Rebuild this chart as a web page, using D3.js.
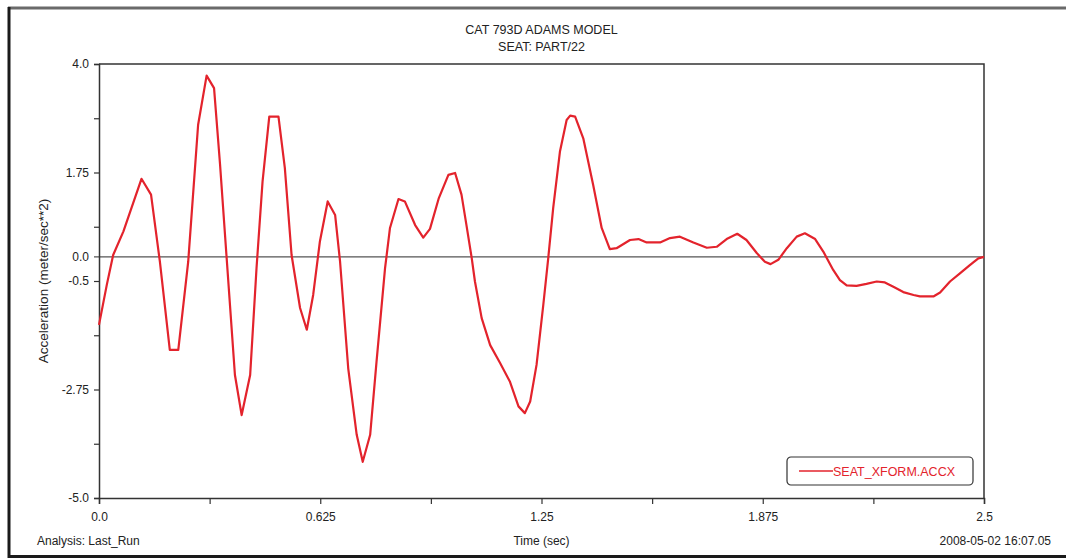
<!DOCTYPE html>
<html>
<head>
<meta charset="utf-8">
<script src="https://cdn.jsdelivr.net/npm/d3@7"></script>
<style>
  html, body { margin: 0; padding: 0; background: #fff; }
  svg { display: block; }
  text { font-family: "Liberation Sans Narrow", "Arial Narrow", "Liberation Sans", Arial, sans-serif; fill: #222; }
</style>
</head>
<body>
<svg id="chart" width="1066" height="558"></svg>
<script>
// Seat acceleration (X) vs. time, ADAMS run "Last_Run"
const timeSec = [
  0.000, 0.022, 0.040, 0.069, 0.120, 0.147, 0.172, 0.200, 0.224, 0.252,
  0.280, 0.304, 0.325, 0.342, 0.360, 0.384, 0.403, 0.427, 0.445, 0.462,
  0.481, 0.507, 0.525, 0.544, 0.568, 0.587, 0.605, 0.624, 0.646, 0.667,
  0.681, 0.704, 0.728, 0.745, 0.766, 0.784, 0.808, 0.822, 0.846, 0.864,
  0.893, 0.916, 0.935, 0.960, 0.987, 1.006, 1.024, 1.038, 1.053, 1.062,
  1.081, 1.105, 1.133, 1.161, 1.185, 1.203, 1.218, 1.236, 1.255, 1.269,
  1.283, 1.302, 1.321, 1.331, 1.345, 1.368, 1.396, 1.420, 1.443, 1.462,
  1.500, 1.524, 1.547, 1.585, 1.613, 1.641, 1.679, 1.717, 1.745, 1.773,
  1.803, 1.829, 1.858, 1.881, 1.897, 1.919, 1.943, 1.971, 1.994, 2.023,
  2.046, 2.074, 2.093, 2.112, 2.140, 2.168, 2.197, 2.220, 2.244, 2.272,
  2.301, 2.319, 2.357, 2.376, 2.404, 2.432, 2.460, 2.484, 2.500
];
const seatAccX = [
  -1.41, -0.58, 0.04, 0.53, 1.62, 1.29, -0.10, -1.93, -1.93, -0.10,
  2.74, 3.76, 3.50, 1.91, 0.04, -2.45, -3.28, -2.45, -0.23, 1.56,
  2.91, 2.91, 1.84, 0.04, -1.06, -1.51, -0.79, 0.32, 1.15, 0.87,
  -0.10, -2.31, -3.69, -4.25, -3.69, -2.17, -0.24, 0.60, 1.20, 1.15,
  0.66, 0.40, 0.58, 1.22, 1.70, 1.74, 1.29, 0.66, -0.03, -0.51,
  -1.27, -1.83, -2.20, -2.59, -3.10, -3.24, -3.00, -2.24, -1.00, -0.03,
  1.01, 2.18, 2.84, 2.93, 2.91, 2.46, 1.49, 0.60, 0.16, 0.18,
  0.35, 0.37, 0.30, 0.30, 0.39, 0.42, 0.30, 0.19, 0.21, 0.37,
  0.48, 0.35, 0.08, -0.10, -0.15, -0.06, 0.18, 0.42, 0.49, 0.37,
  0.11, -0.27, -0.48, -0.59, -0.60, -0.56, -0.51, -0.53, -0.62, -0.73,
  -0.79, -0.82, -0.82, -0.74, -0.51, -0.34, -0.17, -0.03, 0.00
];

const yTicks = [4, 2.875, 1.75, 0.625, -0.5, -1.625, -2.75, -3.875, -5];
const yTickLabels = ["4.0", "", "1.75", "", "-0.5", "", "-2.75", "", "-5.0"];
const xTicks = [0, 0.3125, 0.625, 0.9375, 1.25, 1.5625, 1.875, 2.1875, 2.5];
const xTickLabels = ["0.0", "", "0.625", "", "1.25", "", "1.875", "", "2.5"];

const titleLines = ["CAT 793D ADAMS MODEL", "SEAT: PART/22"];
const yAxisTitle = "Acceleration (meter/sec**2)";
const xAxisTitle = "Time (sec)";
const analysisText = "Analysis:  Last_Run";
const stampText = "2008-05-02 16:07.05";
const seriesName = "SEAT_XFORM.ACCX";

const curveColor = "#e3232c";
const frameColor = "#333";

const svg = d3.select("#chart");
const plot = { left: 99, right: 984, top: 64, bottom: 498 };

const x = d3.scaleLinear().domain([0, 2.5]).range([plot.left, plot.right]);
const y = d3.scaleLinear().domain([-5, 4]).range([plot.bottom, plot.top]);

// outer page frame
svg.append("line").attr("x1", 8).attr("x2", 1066).attr("y1", 8).attr("y2", 8)
  .attr("stroke", "#6a6a6a").attr("stroke-width", 3);
svg.append("line").attr("x1", 9).attr("x2", 9).attr("y1", 7).attr("y2", 558)
  .attr("stroke", "#1a1a1a").attr("stroke-width", 3);
svg.append("line").attr("x1", 8).attr("x2", 1066).attr("y1", 556.5).attr("y2", 556.5)
  .attr("stroke", "#1a1a1a").attr("stroke-width", 3);

// titles
svg.selectAll("text.title").data(titleLines).join("text")
  .attr("class", "title")
  .attr("x", (plot.left + plot.right) / 2)
  .attr("y", (d, i) => 34 + i * 17)
  .attr("text-anchor", "middle")
  .attr("font-size", 12.5)
  .text(d => d);

// plot frame: top and right edges
svg.append("path")
  .attr("d", `M${plot.left},${plot.top}H${plot.right}V${plot.bottom}`)
  .attr("fill", "none").attr("stroke", frameColor).attr("stroke-width", 1.5);

// zero reference line
svg.append("line")
  .attr("x1", plot.left - 5).attr("x2", plot.right)
  .attr("y1", y(0)).attr("y2", y(0))
  .attr("stroke", "#555").attr("stroke-width", 1.2);

// y axis
const yAxis = d3.axisLeft(y).tickValues(yTicks).tickSize(5).tickPadding(5)
  .tickFormat((d, i) => yTickLabels[i]);
const gy = svg.append("g").attr("transform", `translate(${plot.left},0)`).call(yAxis);
gy.select(".domain").attr("stroke", frameColor).attr("stroke-width", 1.5);
gy.selectAll(".tick line").attr("stroke", frameColor).attr("stroke-width", 1.2);
gy.selectAll(".tick text").attr("font-size", 12).attr("fill", "#222")
  .attr("font-family", null);
gy.append("text")
  .attr("x", -10).attr("y", y(0)).attr("dy", "0.32em")
  .attr("text-anchor", "end").attr("font-size", 12).attr("fill", "#222")
  .text("0.0");

// x axis
const xAxis = d3.axisBottom(x).tickValues(xTicks).tickSize(6).tickPadding(8)
  .tickFormat((d, i) => xTickLabels[i]);
const gx = svg.append("g").attr("transform", `translate(0,${plot.bottom})`).call(xAxis);
gx.select(".domain").attr("stroke", frameColor).attr("stroke-width", 1.5);
gx.selectAll(".tick line").attr("stroke", frameColor).attr("stroke-width", 1.2);
gx.selectAll(".tick text").attr("font-size", 12).attr("fill", "#222")
  .attr("font-family", null);
svg.selectAll(".tick text, .domain").attr("font-family", null);
svg.selectAll("g").attr("font-family", null);

// axis titles and footer
svg.append("text")
  .attr("transform", `translate(48,${(plot.top + plot.bottom) / 2}) rotate(-90)`)
  .attr("text-anchor", "middle").attr("font-size", 13.5)
  .text(yAxisTitle);
svg.append("text").attr("x", (plot.left + plot.right) / 2).attr("y", 545)
  .attr("text-anchor", "middle").attr("font-size", 12).text(xAxisTitle);
svg.append("text").attr("x", 37).attr("y", 545)
  .attr("font-size", 12).text(analysisText);
svg.append("text").attr("x", 1051).attr("y", 545)
  .attr("text-anchor", "end").attr("font-size", 12).text(stampText);

// data curve
const pts = timeSec.map((t, i) => [t, seatAccX[i]]);
svg.append("path").datum(pts)
  .attr("fill", "none").attr("stroke", curveColor).attr("stroke-width", 2.2)
  .attr("stroke-linejoin", "round")
  .attr("d", d3.line().x(d => x(d[0])).y(d => y(d[1])).curve(d3.curveLinear));

// legend
const lg = svg.append("g").attr("transform", "translate(787,457)");
lg.append("rect").attr("width", 186).attr("height", 28).attr("rx", 4)
  .attr("fill", "#fff").attr("stroke", frameColor).attr("stroke-width", 1.2);
lg.append("line").attr("x1", 12).attr("x2", 46).attr("y1", 14).attr("y2", 14)
  .attr("stroke", curveColor).attr("stroke-width", 1.5);
lg.append("text").attr("x", 46).attr("y", 18.5).attr("font-size", 12.5)
  .style("fill", curveColor).text(seriesName);
</script>
</body>
</html>
